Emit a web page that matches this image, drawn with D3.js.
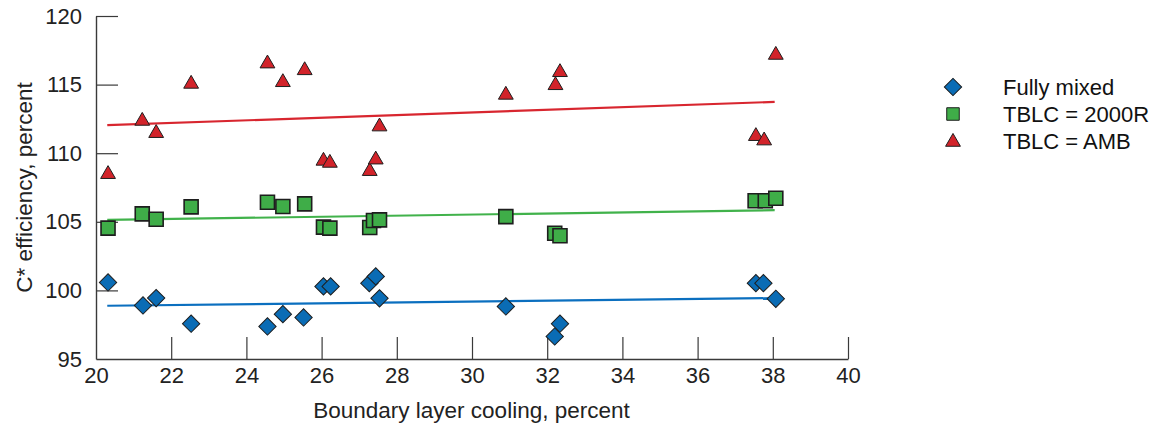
<!DOCTYPE html>
<html>
<head>
<meta charset="utf-8">
<script src="https://cdn.jsdelivr.net/npm/d3@7"></script>
<style>
  body { margin: 0; background: #fff; }
  svg { font-family: "Liberation Sans", Arial, Helvetica, sans-serif; }
</style>
</head>
<body>
<svg width="1156" height="426"></svg>
<script>
// boundary layer cooling, percent (one value per test point)
const coolingMixed = [20.32, 21.25, 21.6, 22.53, 24.56, 24.97, 25.52, 26.05, 26.24, 27.27, 27.44, 27.54, 30.9, 32.2, 32.34, 37.55, 37.75, 38.08];
const coolingTblc  = [20.32, 21.23, 21.6, 22.53, 24.56, 24.97, 25.55, 26.05, 26.22, 27.28, 27.38, 27.54, 30.9, 32.2, 32.34, 37.53, 37.8, 38.08];
const coolingAmb   = [20.32, 21.23, 21.6, 22.53, 24.56, 24.97, 25.55, 26.05, 26.22, 27.28, 27.44, 27.54, 30.9, 32.22, 32.34, 37.55, 37.77, 38.08];

// C* efficiency, percent
const fullyMixed = [100.58, 98.9, 99.44, 97.57, 97.37, 98.27, 98.03, 100.29, 100.29, 100.53, 101.02, 99.42, 98.83, 96.64, 97.57, 100.53, 100.53, 99.39];
const tblc2000R  = [104.54, 105.58, 105.19, 106.09, 106.43, 106.11, 106.31, 104.61, 104.54, 104.58, 105.09, 105.14, 105.38, 104.17, 103.98, 106.53, 106.53, 106.72];
const tblcAmb    = [108.47, 112.35, 111.46, 115.05, 116.53, 115.17, 116.04, 109.44, 109.29, 108.69, 109.53, 111.94, 114.25, 114.95, 115.9, 111.24, 110.92, 117.16];

// linear fit end points [x0, y0, x1, y1]
const fitMixed = [20.3, 98.88, 38.05, 99.44];
const fitTblc  = [20.3, 105.14, 38.05, 105.85];
const fitAmb   = [20.3, 112.04, 38.05, 113.74];

const seriesNames = ['Fully mixed', 'TBLC = 2000R', 'TBLC = AMB'];
const xTicks = [20, 22, 24, 26, 28, 30, 32, 34, 36, 38, 40];
const yTicks = [95, 100, 105, 110, 115, 120];

const svg = d3.select('svg');
const margin = {top: 16, left: 96};
const innerWidth = 752;
const innerHeight = 343;
const fontFamily = '"Liberation Sans", Arial, Helvetica, sans-serif';

const xScale = d3.scaleLinear().domain([20, 40]).range([0, innerWidth]);
const yScale = d3.scaleLinear().domain([95, 120]).range([innerHeight, 0]);

const g = svg.append('g')
  .attr('transform', `translate(${margin.left},${margin.top})`);

const axisColor = '#3a3a3a';

// y axis: ticks pointing into the plot
const yAxisG = g.append('g')
  .call(d3.axisLeft(yScale).tickValues(yTicks).tickSize(-22).tickPadding(14).tickSizeOuter(0))
  .attr('font-family', fontFamily)
  .attr('font-size', 22);
yAxisG.selectAll('.tick line').attr('stroke', axisColor).attr('stroke-width', 1.2);
yAxisG.select('.domain').attr('stroke', axisColor).attr('stroke-width', 1.4);
yAxisG.selectAll('.tick text').attr('fill', '#222');
yAxisG.selectAll('.tick').filter(d => d === 95).select('line').remove();

// x axis
const xAxisG = g.append('g')
  .attr('transform', `translate(0,${innerHeight})`)
  .call(d3.axisBottom(xScale).tickValues(xTicks).tickSize(-22).tickPadding(8).tickSizeOuter(0))
  .attr('font-family', fontFamily)
  .attr('font-size', 22);
xAxisG.selectAll('.tick line').attr('stroke', axisColor).attr('stroke-width', 1.2);
xAxisG.select('.domain').attr('stroke', axisColor).attr('stroke-width', 1.4);
xAxisG.selectAll('.tick text').attr('fill', '#222');
xAxisG.selectAll('.tick').filter(d => d === 20).select('line').remove();

g.append('text')
  .attr('x', 375.5)
  .attr('y', innerHeight + 59)
  .attr('text-anchor', 'middle')
  .attr('fill', '#222')
  .attr('font-size', 22.5)
  .text('Boundary layer cooling, percent');

g.append('text')
  .attr('transform', 'rotate(-90)')
  .attr('x', -171.5)
  .attr('y', -64)
  .attr('text-anchor', 'middle')
  .attr('fill', '#222')
  .attr('font-size', 22.5)
  .text('C* efficiency, percent');

const series = [
  {name: seriesNames[2], xs: coolingAmb, ys: tblcAmb, fit: fitAmb, color: '#d2232a', line: '#d8262f',
   symbol: d3.symbolTriangle, size: 95, rot: 0, sw: 1},
  {name: seriesNames[1], xs: coolingTblc, ys: tblc2000R, fit: fitTblc, color: '#3fad48', line: '#41b24b',
   symbol: d3.symbolSquare, size: 196, rot: 0, sw: 1.6},
  {name: seriesNames[0], xs: coolingMixed, ys: fullyMixed, fit: fitMixed, color: '#0a6cb5', line: '#0b6fbf',
   symbol: d3.symbolSquare, size: 150, rot: 45, sw: 1}
];

// fit lines
series.forEach(s => {
  g.append('line')
    .attr('x1', xScale(s.fit[0])).attr('y1', yScale(s.fit[1]))
    .attr('x2', xScale(s.fit[2])).attr('y2', yScale(s.fit[3]))
    .attr('stroke', s.line)
    .attr('stroke-width', 2.2);
});

// points
series.forEach(s => {
  const pts = s.xs.map((x, i) => ({x, y: s.ys[i]}));
  g.append('g').selectAll('path').data(pts)
    .enter()
    .append('path')
    .attr('d', d3.symbol().type(s.symbol).size(s.size))
    .attr('transform', d => `translate(${xScale(d.x)},${yScale(d.y)}) rotate(${s.rot})`)
    .attr('fill', s.color)
    .attr('stroke', '#1e1e1e')
    .attr('stroke-width', s.sw);
});

// legend
const legend = svg.append('g').attr('transform', 'translate(953,87)');
[series[2], series[1], series[0]].forEach((s, i) => {
  const row = legend.append('g').attr('transform', `translate(0,${i * 27})`);
  row.append('path')
    .attr('d', d3.symbol().type(s.symbol).size(s.size * (s.symbol === d3.symbolSquare && s.rot === 0 ? 0.8 : 1))())
    .attr('transform', `translate(0,${i === 2 ? 1 : 0}) rotate(${s.rot})`)
    .attr('fill', s.color)
    .attr('stroke', '#1e1e1e')
    .attr('stroke-width', 1);
  row.append('text')
    .attr('x', 50)
    .attr('y', 0)
    .attr('dy', '0.35em')
    .attr('fill', '#111')
    .attr('font-size', 22)
    .text(s.name);
});
</script>
</body>
</html>
